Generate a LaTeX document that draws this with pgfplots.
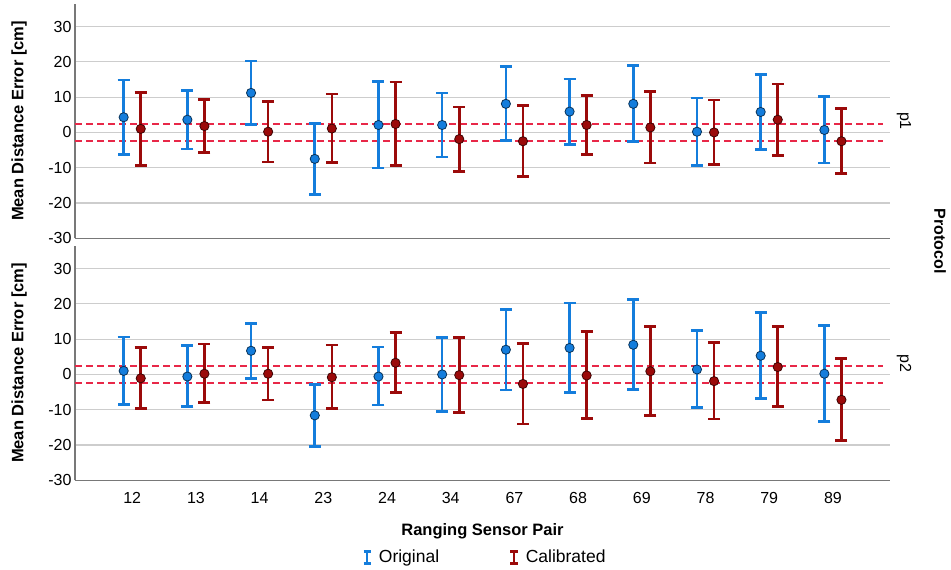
\documentclass[border=0pt]{standalone}
\usepackage{fontspec}
\setmainfont{Liberation Sans}
\usepackage{pgfplots}
\pgfplotsset{compat=1.18}
\usepackage{pgfplotstable}

\definecolor{cOrig}{RGB}{20,125,220}
\definecolor{cCal}{RGB}{155,10,10}
\definecolor{cDash}{RGB}{232,40,72}
\definecolor{cGrid}{RGB}{205,205,205}
\definecolor{cAxis}{RGB}{120,120,120}

% x = category index, y = mean, hi/lo = error bar ends
\pgfplotstableread{
x y hi lo
0 4.3 14.9 -6.3
1 3.6 11.9 -4.7
2 11.2 20.2 2.3
3 -7.5 2.6 -17.6
4 2.1 14.4 -10.1
5 2.1 11.2 -7.0
6 8.1 18.6 -2.3
7 5.9 15.1 -3.4
8 8.1 18.9 -2.5
9 0.2 9.8 -9.4
10 5.8 16.4 -4.9
11 0.7 10.1 -8.7
}\pOneOrig
\pgfplotstableread{
x y hi lo
0 1.0 11.3 -9.3
1 1.8 9.4 -5.7
2 0.2 8.8 -8.4
3 1.1 10.9 -8.5
4 2.4 14.3 -9.4
5 -1.9 7.2 -11.0
6 -2.5 7.6 -12.5
7 2.1 10.4 -6.2
8 1.4 11.6 -8.7
9 0.0 9.2 -9.1
10 3.6 13.7 -6.5
11 -2.5 6.7 -11.7
}\pOneCal
\pgfplotstableread{
x y hi lo
0 1.0 10.6 -8.5
1 -0.6 8.2 -9.1
2 6.7 14.5 -1.1
3 -11.6 -2.9 -20.4
4 -0.6 7.8 -8.7
5 0.0 10.5 -10.5
6 7.0 18.4 -4.4
7 7.5 20.2 -5.1
8 8.4 21.2 -4.3
9 1.4 12.5 -9.4
10 5.3 17.6 -6.8
11 0.2 13.8 -13.3
}\pTwoOrig
\pgfplotstableread{
x y hi lo
0 -1.1 7.6 -9.7
1 0.2 8.6 -8.0
2 0.2 7.6 -7.2
3 -0.8 8.3 -9.7
4 3.3 11.8 -5.1
5 -0.2 10.4 -10.8
6 -2.7 8.7 -14.0
7 -0.3 12.1 -12.5
8 0.9 13.5 -11.6
9 -1.9 9.0 -12.6
10 2.1 13.5 -9.1
11 -7.2 4.5 -18.8
}\pTwoCal

\pgfplotsset{
  panel/.style={
    scale only axis, width=815pt, height=234.7pt,
    xmin=-0.898, xmax=11.896, ymin=-30, ymax=36.5,
    ytick={-30,-20,...,30}, xtick={0,...,11},
    axis x line*=bottom, axis y line*=left,
    axis line style={cAxis, line width=1.3pt, -},
    ymajorgrids, grid style={cGrid, line width=1.2pt},
    major tick length=0pt,
    tick label style={font=\fontsize{16}{18}\selectfont},
    /pgf/number format/assume math mode=true,
  },
  orig/.style={only marks, color=cOrig, mark=*, mark size=4.6pt,
    mark options={draw=black!60!cOrig, line width=0.8pt, fill=cOrig},
    error bars/.cd, y dir=both, y explicit,
    error bar style={line width=2.6pt, cOrig},
    error mark options={rotate=90, mark size=6pt, line width=2.6pt, cOrig}},
  cal/.style={only marks, color=cCal, mark=*, mark size=4.6pt,
    mark options={draw=black!60!cCal, line width=0.8pt, fill=cCal},
    error bars/.cd, y dir=both, y explicit,
    error bar style={line width=2.6pt, cCal},
    error mark options={rotate=90, mark size=6pt, line width=2.6pt, cCal}},
  dashl/.style={draw=cDash, color=cDash, solid, line width=1.8pt, dash pattern=on 7pt off 4pt, forget plot, no marks},
}

\begin{document}
\begin{tikzpicture}
\useasboundingbox (0,0) rectangle (951pt,-570pt);

% top panel (p1)
\begin{axis}[panel, at={(75pt,-238.3pt)}, anchor=south west, xticklabels={}]
\addplot[dashl] coordinates {(-0.898,-2.5) (11.79,-2.5)};
\addplot[dashl] coordinates {(-0.898,2.45) (11.79,2.45)};
\addplot[orig] table[x expr=\thisrow{x}-0.134, y=y,
  y error plus expr=\thisrow{hi}-\thisrow{y},
  y error minus expr=\thisrow{y}-\thisrow{lo}] {\pOneOrig};
\addplot[cal] table[x expr=\thisrow{x}+0.134, y=y,
  y error plus expr=\thisrow{hi}-\thisrow{y},
  y error minus expr=\thisrow{y}-\thisrow{lo}] {\pOneCal};
\end{axis}

% bottom panel (p2)
\begin{axis}[panel, at={(75pt,-480.3pt)}, anchor=south west,
  xticklabels={12,13,14,23,24,34,67,68,69,78,79,89},
  xticklabel style={anchor=north, text height=12pt, text depth=0pt, inner sep=0pt, yshift=-11pt},
  legend style={at={(0.503,-0.328)}, anchor=center, draw=none, fill=none,
    legend columns=2, font=\fontsize{17.5}{20}\selectfont,
    /tikz/every even column/.append style={column sep=68pt}},
]
\addplot[dashl] coordinates {(-0.898,2.5) (11.79,2.5)};
\addplot[dashl] coordinates {(-0.898,-2.5) (11.79,-2.5)};
\addplot[legend image code/.code={
    \path (-4pt,0pt) (9.5pt,0pt);
    \draw[cOrig, line width=2.5pt] (0pt,-6pt)--(0pt,6pt);
    \draw[cOrig, line width=2.5pt] (-3.6pt,-6pt)--(3.6pt,-6pt) (-3.6pt,6pt)--(3.6pt,6pt);}, orig]
  table[x expr=\thisrow{x}-0.134, y=y,
  y error plus expr=\thisrow{hi}-\thisrow{y},
  y error minus expr=\thisrow{y}-\thisrow{lo}] {\pTwoOrig};
\addlegendentry{Original}
\addplot[legend image code/.code={
    \path (-4pt,0pt) (9.5pt,0pt);
    \draw[cCal, line width=2.5pt] (0pt,-6pt)--(0pt,6pt);
    \draw[cCal, line width=2.5pt] (-3.6pt,-6pt)--(3.6pt,-6pt) (-3.6pt,6pt)--(3.6pt,6pt);}, cal]
  table[x expr=\thisrow{x}+0.134, y=y,
  y error plus expr=\thisrow{hi}-\thisrow{y},
  y error minus expr=\thisrow{y}-\thisrow{lo}] {\pTwoCal};
\addlegendentry{Calibrated}
\end{axis}

% labels
\node[rotate=90, font=\bfseries\fontsize{16.5}{19}\selectfont] at (19pt,-121pt) {Mean Distance Error [cm]};
\node[rotate=90, font=\bfseries\fontsize{16.5}{19}\selectfont] at (19pt,-363pt) {Mean Distance Error [cm]};
\node[font=\bfseries\fontsize{16.5}{19}\selectfont] at (482.5pt,-531pt) {Ranging Sensor Pair};
\node[rotate=-90, font=\fontsize{16}{18}\selectfont] at (904pt,-121pt) {p1};
\node[rotate=-90, font=\fontsize{16}{18}\selectfont] at (904pt,-363pt) {p2};
\node[rotate=-90, font=\bfseries\fontsize{16}{18}\selectfont] at (940pt,-241pt) {Protocol};
\end{tikzpicture}
\end{document}
